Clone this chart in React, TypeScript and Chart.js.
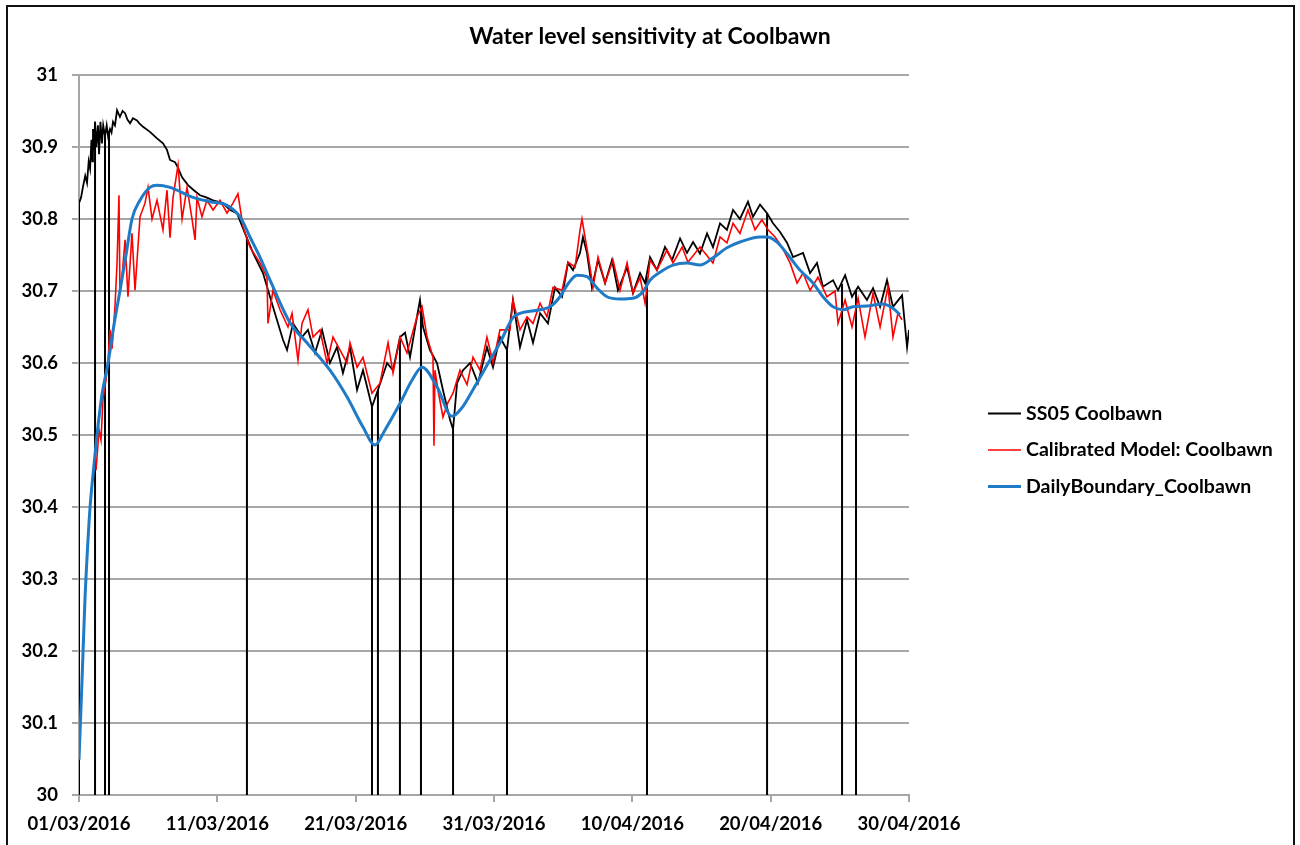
import React, { useEffect, useRef } from "react";
import { Chart, registerables } from "chart.js";

Chart.register(...registerables);

const chartTitle = "Water level sensitivity at Coolbawn";
const seriesNames = ["SS05 Coolbawn", "Calibrated Model: Coolbawn", "DailyBoundary_Coolbawn"];
const xTickLabels = ["01/03/2016", "11/03/2016", "21/03/2016", "31/03/2016", "10/04/2016", "20/04/2016", "30/04/2016"];
const yTickValues = [30, 30.1, 30.2, 30.3, 30.4, 30.5, 30.6, 30.7, 30.8, 30.9, 31];
const yTickLabels = ["30", "30.1", "30.2", "30.3", "30.4", "30.5", "30.6", "30.7", "30.8", "30.9", "31"];

// [day since 01/03/2016, water level]
const ssSamples: [number, number][] = [
  [0, 30.822], [0.15, 30.83], [0.29, 30.845], [0.45, 30.86], [0.58, 30.85], [0.7, 30.88], [0.8, 30.87],
  [0.9, 30.91], [0.97, 30.88], [1.01, 30.925], [1.08, 30.895], [1.16, 30.935], [1.25, 30.9], [1.37, 30.93],
  [1.45, 30.89], [1.55, 30.935], [1.66, 30.905], [1.75, 30.93], [1.88, 30.915], [2.0, 30.93], [2.1, 30.915],
  [2.24, 30.925], [2.35, 30.92], [2.46, 30.935], [2.6, 30.93], [2.75, 30.951], [2.96, 30.942], [3.15, 30.95],
  [3.33, 30.947], [3.5, 30.938], [3.69, 30.933], [3.9, 30.94], [4.19, 30.937], [4.4, 30.932], [4.63, 30.928],
  [5.13, 30.921], [5.64, 30.912], [6.07, 30.905], [6.36, 30.896], [6.58, 30.882], [6.94, 30.879], [7.16, 30.871],
  [7.45, 30.858], [7.88, 30.847], [8.3, 30.84], [8.75, 30.833], [9.2, 30.83], [9.69, 30.826], [10.41, 30.822],
  [10.92, 30.8125], [11.42, 30.808], [12.0, 30.78], [12.58, 30.753], [13.3, 30.725], [14.02, 30.678],
  [14.75, 30.632], [15.04, 30.618], [15.47, 30.655], [16.12, 30.636], [16.55, 30.646], [17.06, 30.614],
  [17.57, 30.646], [18.14, 30.6], [18.65, 30.622], [19.08, 30.586], [19.59, 30.622], [20.1, 30.5625],
  [20.53, 30.59], [21.18, 30.539], [21.61, 30.5625], [22.27, 30.6], [22.7, 30.59], [23.21, 30.636],
  [23.57, 30.642], [23.93, 30.608], [24.43, 30.664], [24.65, 30.6875], [24.87, 30.65], [25.37, 30.618],
  [25.88, 30.6], [26.31, 30.5625], [26.82, 30.521], [27.04, 30.508], [27.33, 30.572], [27.76, 30.59],
  [28.27, 30.6], [28.84, 30.572], [29.49, 30.622], [29.93, 30.594], [30.43, 30.636], [30.94, 30.618],
  [31.37, 30.6875], [31.88, 30.622], [32.39, 30.66], [32.82, 30.628], [33.33, 30.669], [33.9, 30.655],
  [34.41, 30.705], [34.92, 30.692], [35.35, 30.739], [35.71, 30.729], [36.22, 30.753], [36.43, 30.775],
  [36.72, 30.753], [37.08, 30.705], [37.52, 30.743], [38.03, 30.711], [38.53, 30.743], [38.96, 30.701],
  [39.62, 30.733], [40.05, 30.697], [40.56, 30.725], [40.92, 30.711], [41.28, 30.747], [41.78, 30.729],
  [42.36, 30.761], [42.87, 30.743], [43.45, 30.773], [43.95, 30.753], [44.39, 30.768], [44.89, 30.752],
  [45.4, 30.78], [45.83, 30.761], [46.34, 30.794], [46.84, 30.785], [47.28, 30.8125], [47.78, 30.8],
  [48.36, 30.824], [48.72, 30.803], [49.23, 30.82], [49.74, 30.808], [50.17, 30.794], [50.68, 30.782],
  [51.18, 30.767], [51.62, 30.747], [52.34, 30.753], [52.85, 30.725], [53.35, 30.739], [53.78, 30.706],
  [54.51, 30.715], [54.87, 30.701], [55.38, 30.722], [55.88, 30.692], [56.32, 30.706], [56.96, 30.6875],
  [57.4, 30.704], [57.91, 30.678], [58.41, 30.715], [58.84, 30.678], [59.5, 30.694], [59.86, 30.622], [60.0, 30.646],
];

const modelSamples: [number, number][] = [
  [1.23, 30.451], [1.45, 30.507], [1.59, 30.493], [1.73, 30.549], [1.95, 30.576], [2.1, 30.604], [2.24, 30.646],
  [2.39, 30.62], [2.6, 30.678], [2.75, 30.739], [2.89, 30.833], [2.96, 30.7], [3.11, 30.72], [3.33, 30.771],
  [3.54, 30.692], [3.83, 30.78], [4.05, 30.701], [4.41, 30.803], [4.77, 30.822], [4.99, 30.844], [5.28, 30.8],
  [5.64, 30.826], [6.07, 30.785], [6.36, 30.84], [6.58, 30.774], [6.8, 30.83], [7.16, 30.875], [7.45, 30.8],
  [7.81, 30.844], [8.17, 30.8], [8.39, 30.771], [8.53, 30.83], [8.89, 30.803], [9.25, 30.826], [9.69, 30.8125],
  [10.19, 30.826], [10.7, 30.808], [11.13, 30.822], [11.49, 30.835], [11.86, 30.789], [12.36, 30.761],
  [13.08, 30.739], [13.59, 30.719], [13.66, 30.655], [14.02, 30.701], [14.53, 30.674], [15.11, 30.65],
  [15.4, 30.669], [15.83, 30.604], [16.12, 30.655], [16.55, 30.674], [16.92, 30.636], [17.42, 30.646],
  [17.93, 30.6], [18.36, 30.636], [18.87, 30.618], [19.37, 30.6], [19.59, 30.628], [20.1, 30.594],
  [20.53, 30.608], [21.18, 30.558], [21.76, 30.572], [22.34, 30.628], [22.7, 30.586], [23.21, 30.636],
  [23.71, 30.614], [24.43, 30.664], [24.8, 30.678], [25.16, 30.636], [25.59, 30.608], [25.66, 30.485],
  [25.73, 30.59], [25.95, 30.5625], [26.31, 30.525], [26.67, 30.545], [27.04, 30.558], [27.54, 30.59],
  [28.05, 30.57], [28.48, 30.608], [28.99, 30.59], [29.49, 30.636], [29.93, 30.6], [30.43, 30.646],
  [31.15, 30.646], [31.37, 30.6875], [31.88, 30.646], [32.39, 30.664], [32.82, 30.655], [33.33, 30.683],
  [33.83, 30.664], [34.27, 30.705], [34.92, 30.701], [35.35, 30.74], [35.86, 30.733], [36.22, 30.785],
  [36.36, 30.8], [36.8, 30.75], [37.16, 30.705], [37.52, 30.747], [38.03, 30.711], [38.6, 30.743],
  [39.11, 30.701], [39.62, 30.739], [40.05, 30.697], [40.56, 30.719], [40.92, 30.683], [41.28, 30.743],
  [41.78, 30.729], [42.51, 30.757], [42.94, 30.739], [43.6, 30.761], [44.02, 30.74], [44.89, 30.761],
  [45.83, 30.739], [46.34, 30.775], [46.84, 30.767], [47.28, 30.794], [47.78, 30.78], [48.36, 30.8125],
  [48.87, 30.785], [49.37, 30.799], [49.81, 30.785], [50.32, 30.775], [50.82, 30.761], [51.4, 30.739],
  [51.91, 30.711], [52.34, 30.725], [52.85, 30.701], [53.42, 30.719], [54.07, 30.692], [54.65, 30.7],
  [54.87, 30.655], [55.38, 30.6875], [55.88, 30.65], [56.32, 30.69], [56.82, 30.636], [57.4, 30.697],
  [57.91, 30.65], [58.48, 30.706], [58.84, 30.636], [59.2, 30.669], [59.5, 30.66],
];

const boundarySamples: [number, number][] = [
  [0, 30.049], [0.22, 30.16], [0.43, 30.271], [0.65, 30.354], [0.8, 30.4], [1.08, 30.458], [1.3, 30.5],
  [1.66, 30.556], [2.1, 30.6], [2.53, 30.653], [2.96, 30.7], [3.4, 30.75], [3.83, 30.8], [4.41, 30.826],
  [5.13, 30.844], [5.64, 30.847], [6.58, 30.844], [8.24, 30.83], [9.47, 30.824], [10.7, 30.819],
  [11.64, 30.803], [12.36, 30.775], [13.08, 30.747], [13.81, 30.715], [15.25, 30.656], [16.48, 30.628],
  [18.14, 30.59], [19.37, 30.553], [20.53, 30.511], [21.4, 30.486], [22.12, 30.507], [23.21, 30.544],
  [24.07, 30.576], [24.8, 30.594], [25.88, 30.567], [26.96, 30.526], [27.69, 30.538], [28.48, 30.563],
  [29.71, 30.604], [30.43, 30.628], [31.37, 30.663], [31.88, 30.669], [33.33, 30.674], [34.05, 30.678],
  [34.77, 30.692], [35.28, 30.708], [36.0, 30.722], [36.72, 30.72], [37.45, 30.704], [38.17, 30.692],
  [39.11, 30.689], [40.05, 30.69], [40.77, 30.699], [41.28, 30.715], [42.0, 30.726], [42.94, 30.736],
  [43.95, 30.739], [44.89, 30.736], [45.83, 30.746], [46.84, 30.76], [47.78, 30.768], [49.23, 30.775],
  [49.74, 30.775], [50.46, 30.768], [51.18, 30.752], [52.12, 30.729], [53.06, 30.711], [53.78, 30.692],
  [54.51, 30.678], [55.23, 30.674], [55.95, 30.678], [56.96, 30.679], [58.12, 30.682], [58.84, 30.676],
  [59.35, 30.667],
];

// SS05 logger drop-outs (value falls to the axis floor)
const dropDays = [0, 1.16, 1.88, 2.17, 12.14, 21.18, 21.61, 23.2, 24.72, 27.04, 30.94, 41.06, 49.74, 55.16, 56.17];
const dropTops = [30.822, 30.935, 30.915, 30.92, 30.775, 30.539, 30.5625, 30.636, 30.68, 30.508, 30.618, 30.72, 30.808, 30.71, 30.7];
const dropFloor = 30;

const FONT = "Lato, 'Open Sans', 'DejaVu Sans', sans-serif";
const colors = ["#000000", "#ff0000", "#1f7bc6"];
const widths = [1.8, 1.6, 3];

const overlayPlugin = {
  id: "overlay",
  afterDraw(chart: any) {
    const ctx = chart.ctx as CanvasRenderingContext2D;
    ctx.save();
    ctx.fillStyle = "#000";
    ctx.font = `bold 23px ${FONT}`;
    ctx.textAlign = "center";
    ctx.textBaseline = "middle";
    ctx.fillText(chartTitle, 650, 37);
    ctx.font = `bold 19.5px ${FONT}`;
    ctx.textAlign = "left";
    seriesNames.forEach((name, i) => {
      const y = 413.5 + i * 36.5;
      ctx.strokeStyle = colors[i];
      ctx.lineWidth = widths[i];
      ctx.beginPath();
      ctx.moveTo(988, y);
      ctx.lineTo(1021, y);
      ctx.stroke();
      ctx.fillText(name, 1026, y);
    });
    ctx.restore();
  },
};

export default function App() {
  const ref = useRef<HTMLCanvasElement>(null);
  useEffect(() => {
    if (!ref.current) return;
    const toPts = (s: [number, number][]) => s.map(([x, y]) => ({ x, y }));
    const dropPts: any[] = [];
    dropDays.forEach((d, i) => {
      dropPts.push({ x: d, y: dropTops[i] }, { x: d, y: dropFloor }, { x: d, y: null });
    });
    const tickFont = { family: FONT, weight: "bold" as const, size: 18.5 };
    const chart = new Chart(ref.current, {
      type: "line",
      data: {
        datasets: [
          { label: "drops", data: dropPts, borderColor: "#000", borderWidth: 2, pointRadius: 0, spanGaps: false, order: 4 },
          { label: seriesNames[0], data: toPts(ssSamples), borderColor: colors[0], borderWidth: widths[0], pointRadius: 0, order: 3 },
          { label: seriesNames[1], data: toPts(modelSamples), borderColor: colors[1], borderWidth: widths[1], pointRadius: 0, order: 2 },
          { label: seriesNames[2], data: toPts(boundarySamples), borderColor: colors[2], borderWidth: widths[2], pointRadius: 0, cubicInterpolationMode: "monotone", order: 1 },
        ] as any,
      },
      options: {
        animation: false,
        responsive: false,
        maintainAspectRatio: false,
        layout: { padding: { top: 75, right: 391, bottom: 0, left: 0 } },
        plugins: { legend: { display: false }, title: { display: false }, tooltip: { enabled: false } },
        scales: {
          x: {
            type: "linear",
            min: 0,
            max: 60,
            afterFit: (s: any) => { s.height = 50; },
            ticks: {
              stepSize: 10,
              autoSkip: false,
              maxRotation: 0,
              padding: 11,
              color: "#000",
              font: tickFont,
              callback: (v: any) => xTickLabels[Math.round(Number(v) / 10)],
            },
            grid: { drawOnChartArea: false, drawTicks: true, tickLength: 7, color: "#a6a6a6", lineWidth: 2 },
            border: { display: true, color: "#a6a6a6", width: 2 },
          },
          y: {
            type: "linear",
            min: 30,
            max: 31,
            afterFit: (s: any) => { s.width = 79; },
            afterBuildTicks: (s: any) => { s.ticks = yTickValues.map((value) => ({ value })); },
            ticks: {
              padding: 14,
              color: "#000",
              font: tickFont,
              callback: (v: any) => yTickLabels[Math.round((Number(v) - 30) * 10)],
            },
            grid: { drawTicks: true, tickLength: 7, color: "#a6a6a6", lineWidth: 2 },
            border: { display: true, color: "#a6a6a6", width: 2 },
          },
        },
      } as any,
      plugins: [overlayPlugin],
    });
    return () => chart.destroy();
  }, []);
  return (
    <div style={{ position: "fixed", left: 0, top: 0, width: 1300, height: 845, background: "#fff" }}>
      <canvas ref={ref} width={1300} height={845} style={{ display: "block", width: 1300, height: 845 }} />
      <div
        style={{
          position: "fixed",
          left: 6,
          top: 5,
          width: 1289,
          height: 900,
          boxSizing: "border-box",
          border: "2px solid #111",
          pointerEvents: "none",
        }}
      />
    </div>
  );
}
